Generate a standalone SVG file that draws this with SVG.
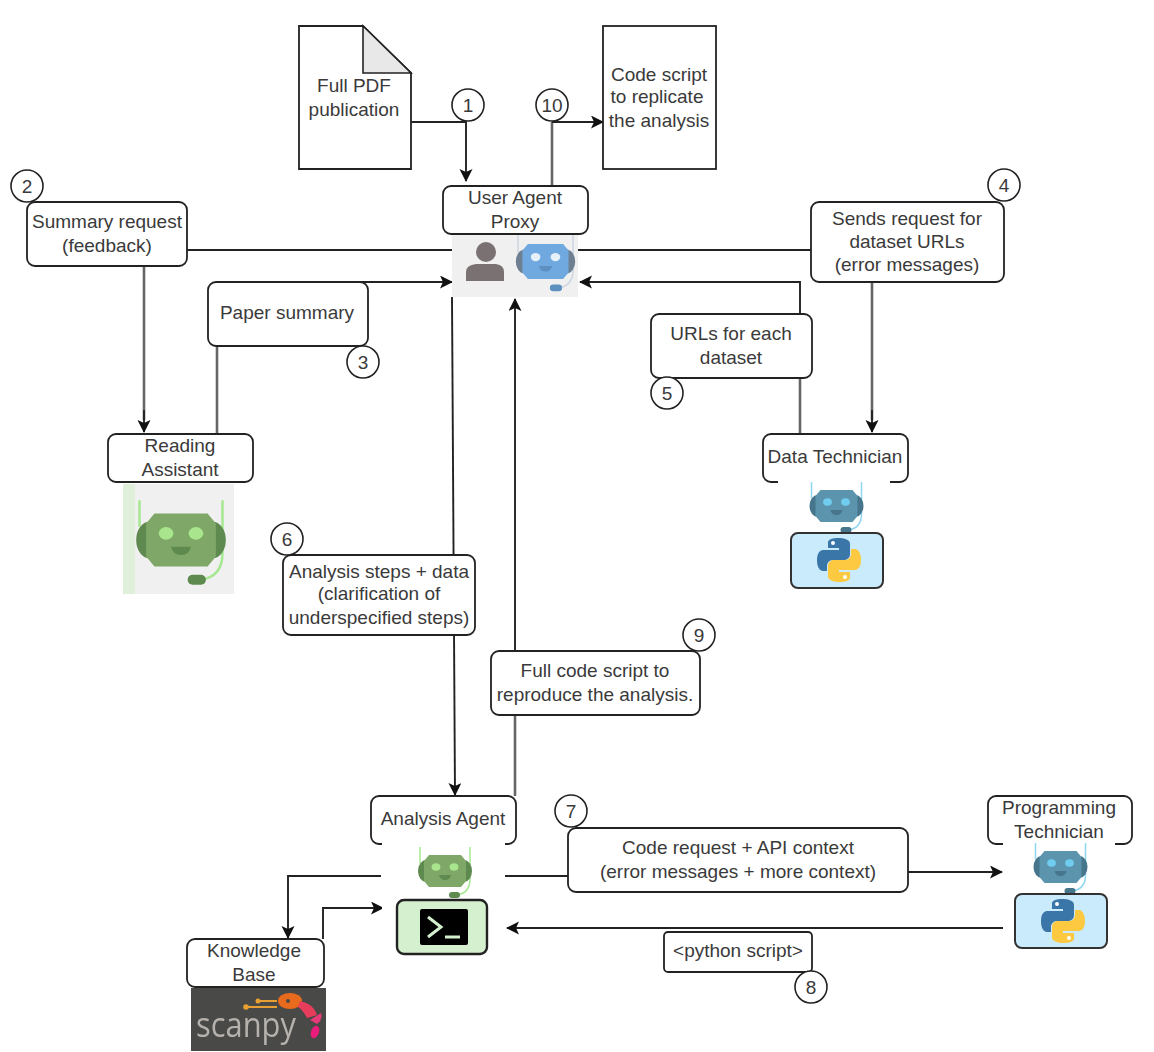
<svg xmlns="http://www.w3.org/2000/svg" width="1154" height="1052" viewBox="0 0 1154 1052">
<style>
text{font-family:"Liberation Sans",Arial,sans-serif;font-size:19px;fill:#3a3a3a;text-anchor:middle}
.box{fill:#fff;stroke:#222;stroke-width:1.8}
.doc{fill:#fff;stroke:#222;stroke-width:1.8}
.badge{fill:#fff;stroke:#222;stroke-width:1.6}
.line{fill:none;stroke:#222;stroke-width:1.9}
.gline{fill:none;stroke:#666;stroke-width:2.6}
.icon{filter:url(#soft)}
.green{--h:#7fa868;--e:#5f8a4f;--i:#a8e58c;--a:#a5e890}
.teal{--h:#5b93ad;--e:#47758c;--i:#6fcdf0;--a:#8fd6f2}
.blue{--h:#6fa8e0;--e:#6d7f90;--i:#e6f0f9;--a:#cfd8e2;--m:#5d8fc0}
.h{fill:var(--h)}.e{fill:var(--e)}.i{fill:var(--i)}.a{fill:none;stroke:var(--a);stroke-width:1.5}
.m{fill:var(--m,var(--e))}
</style>
<defs>
<filter id="soft" x="-5%" y="-5%" width="110%" height="110%"><feGaussianBlur stdDeviation="0.6"/></filter>
<marker id="arr" markerWidth="14" markerHeight="14" refX="12" refY="6.5" orient="auto" markerUnits="userSpaceOnUse"><path d="M0,0 L13,6.5 L0,13 L3,6.5 Z" fill="#111"/></marker>
<g id="robot">
<path class="a" d="M-25,-24V-8M25,-24V8Q25,22 12,24"/>
<ellipse class="e" cx="-19" cy="0" rx="8" ry="11"/>
<ellipse class="e" cx="19" cy="0" rx="8" ry="11"/>
<path class="h" d="M-16,-16H16L21,-10V10L16,16H-16L-21,10V-10Z"/>
<ellipse class="i" cx="-9" cy="-4" rx="4.4" ry="3.8"/><ellipse class="i" cx="9" cy="-4" rx="4.4" ry="3.8"/>
<path class="m" d="M-6,4H6Q5,9 0,9Q-5,9 -6,4Z"/>
<rect class="m" x="4" y="21" width="11" height="6" rx="3"/>
</g>
<g id="pylogo">
<path fill="#3a76a8" d="M-1,-22C-12,-22 -11,-17 -11,-17L-11,-12L0,-12L0,-10L-15,-10C-15,-10 -22,-11 -22,0C-22,11 -16,11 -16,11L-12,11L-12,6C-12,6 -12,0 -6,0L5,0C5,0 11,0 11,-6L11,-16C11,-16 12,-22 -1,-22Z"/>
<path fill="#fcc93f" d="M1,22C12,22 11,17 11,17L11,12L0,12L0,10L15,10C15,10 22,11 22,0C22,-11 16,-11 16,-11L12,-11L12,-6C12,-6 12,0 6,0L-5,0C-5,0 -11,0 -11,6L-11,16C-11,16 -12,22 1,22Z"/>
<circle cx="-6" cy="-17" r="2" fill="#fff"/><circle cx="6" cy="17" r="2" fill="#fff"/>
</g>
</defs>

<g id="connectors">
<path class="line" d="M411,122H466V181" marker-end="url(#arr)"/>
<path class="gline" d="M552,186V122"/>
<path class="line" d="M552,122H603" marker-end="url(#arr)"/>
<path class="line" d="M452,250H187"/>
<path class="gline" d="M144,266V420"/>
<path class="line" d="M144,410V432" marker-end="url(#arr)"/>
<path class="gline" d="M217,434V346"/>
<path class="line" d="M217,346V282H452" marker-end="url(#arr)"/>
<path class="line" d="M578,250H811"/>
<path class="gline" d="M872,282V420"/>
<path class="line" d="M872,410V432" marker-end="url(#arr)"/>
<path class="gline" d="M800,434V378"/>
<path class="line" d="M800,378V282H580" marker-end="url(#arr)"/>
<path class="line" d="M452,297L455,795" marker-end="url(#arr)"/>
<path class="gline" d="M515,796V715"/>
<path class="line" d="M515,715V299" marker-end="url(#arr)"/>
<path class="line" d="M381,876H288V938" marker-end="url(#arr)"/>
<path class="line" d="M323,939V908H383" marker-end="url(#arr)"/>
<path class="line" d="M505,876H568"/>
<path class="line" d="M908,872H1002" marker-end="url(#arr)"/>
<path class="line" d="M1003,928H507" marker-end="url(#arr)"/>
</g>

<g id="full-pdf">
<path class="doc" d="M299,26H363L411,73V169H299Z"/>
<path d="M363,26L411,73H363Z" fill="#e8e8e8" stroke="#222" stroke-width="1.6"/>
<text x="354" y="92">Full PDF</text><text x="354" y="116">publication</text>
</g>
<g id="code-script">
<rect class="doc" x="603" y="26" width="113" height="143"/>
<text x="659" y="81">Code script</text><text x="657" y="103">to replicate</text><text x="659" y="127">the analysis</text>
</g>

<g id="user-agent-proxy">
<g class="icon">
<rect x="452" y="235" width="126" height="62" fill="#f0f0f0"/>
<circle cx="486" cy="252" r="10" fill="#7a7272"/>
<path d="M466,281V272Q466,265 476,264H496Q504,265 504,272V281Z" fill="#7a7272"/>
<g class="blue" transform="translate(545.5,261.5) scale(1.1)"><use href="#robot"/></g>
</g>
<rect class="box" x="443" y="186" width="145" height="48" rx="8"/>
<text x="515" y="204">User Agent</text><text x="515" y="228">Proxy</text>
</g>

<g id="summary-request">
<rect class="box" x="27" y="202" width="160" height="64" rx="8"/>
<text x="107" y="228">Summary request</text><text x="107" y="252">(feedback)</text>
</g>
<g id="paper-summary">
<rect class="box" x="208" y="282" width="160" height="64" rx="8"/>
<text x="287" y="319">Paper summary</text>
</g>
<g id="sends-request">
<rect class="box" x="811" y="202" width="193" height="80" rx="8"/>
<text x="907" y="225">Sends request for</text><text x="907" y="248">dataset URLs</text><text x="907" y="271">(error messages)</text>
</g>
<g id="urls">
<rect class="box" x="651" y="314" width="161" height="64" rx="8"/>
<text x="731" y="340">URLs for each</text><text x="731" y="364">dataset</text>
</g>

<g id="reading-assistant">
<g class="icon">
<rect x="123" y="484" width="111" height="110" fill="#f0f0f0"/>
<rect x="123" y="484" width="12" height="110" fill="#e0efd9"/>
<g class="green" transform="translate(181,540) scale(1.66)"><use href="#robot"/></g>
</g>
<rect class="box" x="108" y="434" width="145" height="48" rx="8"/>
<text x="180" y="452">Reading</text><text x="180" y="476">Assistant</text>
</g>

<g id="data-technician">
<rect class="box" x="763" y="434" width="145" height="48" rx="8"/>
<text x="835" y="463">Data Technician</text>
<rect x="778" y="476" width="112" height="120" fill="#fff"/>
<g class="icon">
<g class="teal" transform="translate(836.5,506)"><use href="#robot"/></g>
<rect x="791" y="533" width="92" height="55" rx="7" fill="#c9ebfb" stroke="#333" stroke-width="2"/>
<use href="#pylogo" x="839" y="560"/>
</g>
</g>

<g id="analysis-steps">
<rect class="box" x="283" y="555" width="192" height="80" rx="8"/>
<text x="379" y="578">Analysis steps + data</text><text x="379" y="600">(clarification of</text><text x="379" y="624">underspecified steps)</text>
</g>
<g id="full-code">
<rect class="box" x="491" y="651" width="209" height="64" rx="8"/>
<text x="595" y="677">Full code script to</text><text x="595" y="701">reproduce the analysis.</text>
</g>

<g id="analysis-agent">
<rect class="box" x="371" y="796" width="145" height="48" rx="8"/>
<text x="443" y="825">Analysis Agent</text>
<rect x="382" y="840" width="123" height="118" fill="#fff"/>
<g class="icon">
<g class="green" transform="translate(445,871)"><use href="#robot"/></g>
<rect x="397" y="900" width="90" height="54" rx="7" fill="#d5f0cf" stroke="#222" stroke-width="2.4"/>
<rect x="420" y="909" width="48" height="36" rx="2" fill="#000"/>
<path d="M428,917L441,927L428,937M445,937H460" fill="none" stroke="#d5f0cf" stroke-width="3"/>
</g>
</g>

<g id="code-request">
<rect class="box" x="568" y="828" width="340" height="64" rx="8"/>
<text x="738" y="854">Code request + API context</text><text x="738" y="878">(error messages + more context)</text>
</g>

<g id="programming-technician">
<rect class="box" x="988" y="796" width="144" height="48" rx="8"/>
<text x="1059" y="814">Programming</text><text x="1059" y="838">Technician</text>
<rect x="1003" y="838" width="112" height="114" fill="#fff"/>
<g class="icon">
<g class="teal" transform="translate(1060.5,867)"><use href="#robot"/></g>
<rect x="1015" y="894" width="92" height="54" rx="7" fill="#c9ebfb" stroke="#333" stroke-width="2"/>
<use href="#pylogo" x="1063" y="921"/>
</g>
</g>

<g id="python-script">
<rect class="box" x="664" y="932" width="148" height="40" rx="4"/>
<text x="738" y="957">&lt;python script&gt;</text>
</g>

<g id="knowledge-base">
<g class="icon">
<rect x="191" y="988" width="135" height="63" fill="#4a4846"/>
<path d="M246,1007H277M258,1001H277" stroke="#e8a030" stroke-width="2"/>
<circle cx="246" cy="1007" r="2.8" fill="#e8a030"/><circle cx="258" cy="1001" r="2.5" fill="#e8a030"/>
<ellipse cx="290" cy="1001" rx="12" ry="8" fill="#e86a1e"/>
<circle cx="288" cy="1001" r="2" fill="#4a4846"/>
<path d="M300,1001Q314,1004 317,1015L307,1018Q303,1010 298,1007Z" fill="#e83c5a"/>
<path d="M310,1020L321,1013Q323,1020 317,1024Z" fill="#e63a78"/>
<ellipse cx="315" cy="1032" rx="4" ry="6.5" fill="#ec1a7c" transform="rotate(20 315 1032)"/>
<text x="246" y="1037" style="font-family:'Open Sans',sans-serif;font-size:35px;fill:#b5b1ac" textLength="100" lengthAdjust="spacingAndGlyphs">scanpy</text>
</g>
<rect class="box" x="187" y="939" width="137" height="48" rx="8"/>
<text x="254" y="957">Knowledge</text><text x="254" y="981">Base</text>
</g>

<g id="badges">
<circle class="badge" cx="468" cy="105" r="16"/><text x="468" y="112">1</text>
<circle class="badge" cx="552" cy="105" r="16"/><text x="552" y="112">10</text>
<circle class="badge" cx="27" cy="186" r="16"/><text x="27" y="193">2</text>
<circle class="badge" cx="363" cy="362" r="16"/><text x="363" y="369">3</text>
<circle class="badge" cx="1004" cy="185" r="16"/><text x="1004" y="192">4</text>
<circle class="badge" cx="667" cy="393" r="16"/><text x="667" y="400">5</text>
<circle class="badge" cx="287" cy="539" r="16"/><text x="287" y="546">6</text>
<circle class="badge" cx="571" cy="811" r="16"/><text x="571" y="818">7</text>
<circle class="badge" cx="811" cy="987" r="16"/><text x="811" y="994">8</text>
<circle class="badge" cx="699" cy="635" r="16"/><text x="699" y="642">9</text>
</g>
</svg>
